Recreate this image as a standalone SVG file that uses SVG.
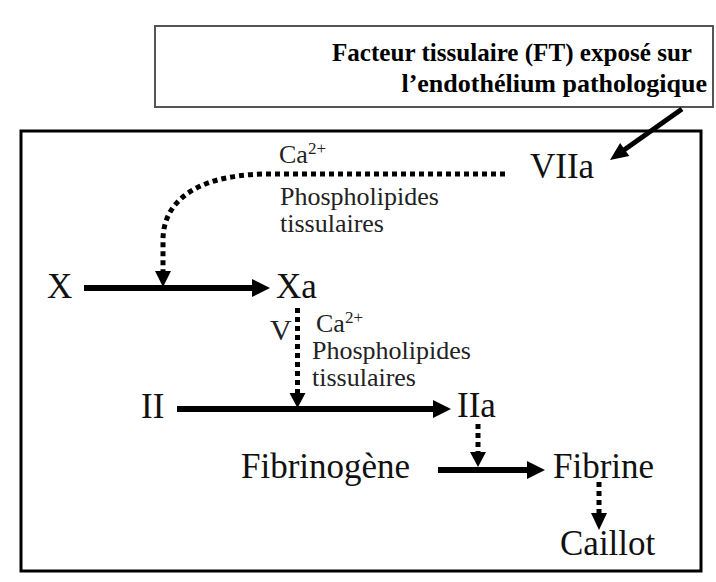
<svg xmlns="http://www.w3.org/2000/svg" width="716" height="582" viewBox="0 0 716 582">
<style>
text{font-family:'Liberation Serif','DejaVu Serif','Times New Roman',serif}
.big{font-size:35px;fill:#111}
.sm{font-size:26px;fill:#222}
.sup{font-size:17px}
.hd{font-size:26px;font-weight:bold;fill:#000;text-anchor:end}
.solid{stroke:#000;stroke-width:6;fill:none}
.dot{stroke:#000;stroke-width:5;stroke-dasharray:5 4;fill:none}
</style>
<rect width="716" height="582" fill="#fff"/>
<g id="ft">
<rect x="155" y="26" width="558" height="81" fill="#fff" stroke="#555" stroke-width="2"/>
<text class="hd" x="692" y="61" textLength="360" lengthAdjust="spacingAndGlyphs">Facteur tissulaire (FT) exposé sur</text>
<text class="hd" x="707" y="92">l’endothélium pathologique</text>
</g>
<g id="frame">
<rect x="21" y="131" width="680" height="440" fill="none" stroke="#000" stroke-width="3"/>
</g>
<g id="VIIa"><text class="big" x="530" y="178">VIIa</text></g>
<g id="cof1">
<text class="sm" x="279" y="163">Ca<tspan class="sup" dy="-9">2+</tspan></text>
<text class="sm" x="280" y="205">Phospholipides</text>
<text class="sm" x="280" y="232">tissulaires</text>
</g>
<g id="X"><text class="big" x="47" y="298">X</text></g>
<g id="Xa"><text class="big" x="276" y="298">Xa</text></g>
<g id="V"><text class="sm" x="270" y="340" style="font-size:30px">V</text></g>
<g id="cof2">
<text class="sm" x="316" y="332">Ca<tspan class="sup" dy="-9">2+</tspan></text>
<text class="sm" x="312" y="359">Phospholipides</text>
<text class="sm" x="312" y="386">tissulaires</text>
</g>
<g id="II"><text class="big" x="141" y="418">II</text></g>
<g id="IIa"><text class="big" x="457" y="417">IIa</text></g>
<g id="Fibrinogene"><text class="big" x="241" y="478">Fibrinogène</text></g>
<g id="Fibrine"><text class="big" x="553" y="478">Fibrine</text></g>
<g id="Caillot"><text class="big" x="560" y="555">Caillot</text></g>
<g id="connectors">
<line x1="682" y1="109" x2="624" y2="150" stroke="#000" stroke-width="5"/>
<polygon points="610,160 629.3,156.1 620.1,143.1" fill="#000"/>
<path class="dot" d="M505 174 L262 174 C195 176 163 202 163 240 L163 272"/>
<polygon points="155,271 171,271 163,287" fill="#000"/>
<line class="solid" x1="84" y1="288" x2="255" y2="288"/>
<polygon points="252,279 270,288 252,297" fill="#000"/>
<line class="dot" x1="297.5" y1="308" x2="297.5" y2="394"/>
<polygon points="289.5,393 305.5,393 297.5,408" fill="#000"/>
<line class="solid" x1="177" y1="409" x2="436" y2="409"/>
<polygon points="433,400 451,409 433,418" fill="#000"/>
<line class="dot" x1="478" y1="424" x2="478" y2="453"/>
<polygon points="470,452 486,452 478,467" fill="#000"/>
<line class="solid" x1="438" y1="470" x2="530" y2="470"/>
<polygon points="527,461 545,470 527,479" fill="#000"/>
<line class="dot" x1="599" y1="482" x2="599" y2="514"/>
<polygon points="591,513 607,513 599,530" fill="#000"/>
</g>
</svg>
